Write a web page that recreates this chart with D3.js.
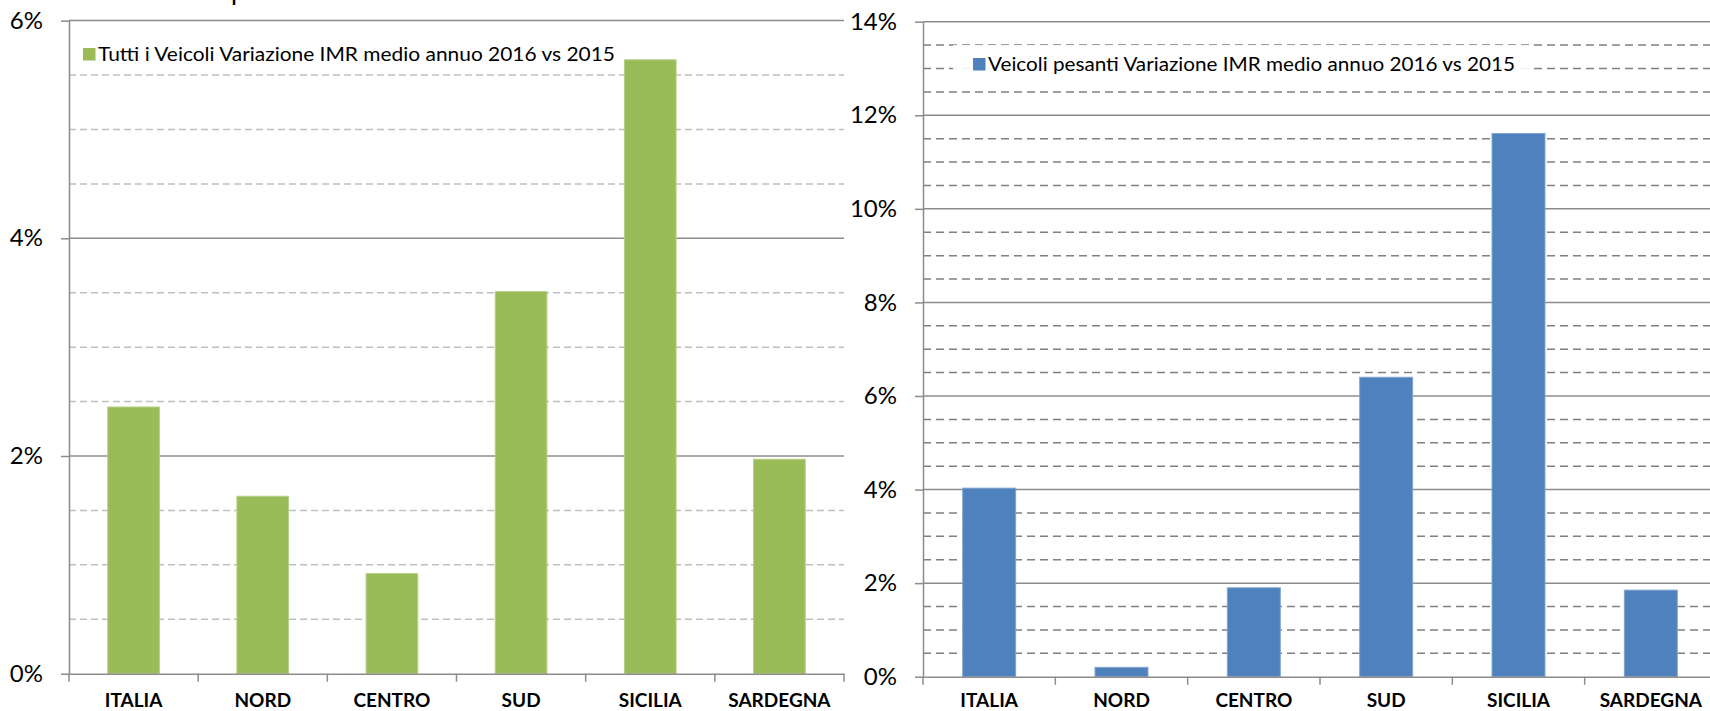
<!DOCTYPE html>
<html>
<head>
<meta charset="utf-8">
<script src="https://cdn.jsdelivr.net/npm/d3@7"></script>
<style>
  body { margin: 0; background: #fff; }
  svg { display: block; font-family: Lato, "Open Sans", sans-serif; }
</style>
</head>
<body>
<div class="chart"></div>
<script>
// two Excel-style column charts side by side

var width = 1710;
var height = 711;

var categories = ["ITALIA", "NORD", "CENTRO", "SUD", "SICILIA", "SARDEGNA"];
var tuttiValues = [2.45, 1.63, 0.92, 3.51, 5.64, 1.97];
var pesantiValues = [4.03, 0.20, 1.90, 6.40, 11.61, 1.85];

var tuttiLabel = "Tutti i Veicoli Variazione IMR medio annuo 2016 vs 2015";
var pesantiLabel = "Veicoli pesanti Variazione IMR medio annuo 2016 vs 2015";

var tuttiTicks = [0, 2, 4, 6];
var pesantiTicks = [0, 2, 4, 6, 8, 10, 12, 14];

var svg = d3.select(".chart").append("svg")
    .attr("width", width)
    .attr("height", height);

// bit of the cut-off title at the very top
svg.append("text")
    .attr("x", 231)
    .attr("y", 0)
    .style("font-size", "26px")
    .style("fill", "#000")
    .text("p");

var drawChart = function(opt){
  var g = svg.append("g");

  var x = d3.scaleBand()
      .domain(categories)
      .range([opt.left, opt.right]);

  var y = d3.scaleLinear()
      .domain([0, opt.max])
      .range([opt.bottom, opt.top]);

  // minor dashed grid every 0.5%
  var minor = d3.range(0, opt.max + 0.001, 0.5).filter(function(d){
    return d > 0 && opt.ticks.indexOf(d) < 0;
  });

  g.selectAll("line.minor")
      .data(minor)
    .enter().append("line")
      .attr("class", "minor")
      .attr("x1", opt.left)
      .attr("x2", opt.right)
      .attr("y1", function(d){ return y(d); })
      .attr("y2", function(d){ return y(d); })
      .style("stroke", opt.minorColor)
      .style("stroke-width", 1.5)
      .style("stroke-dasharray", opt.dash);

  // major solid grid
  g.selectAll("line.major")
      .data(opt.ticks.filter(function(d){ return d > 0; }))
    .enter().append("line")
      .attr("class", "major")
      .attr("x1", opt.left)
      .attr("x2", opt.right)
      .attr("y1", function(d){ return y(d); })
      .attr("y2", function(d){ return y(d); })
      .style("stroke", "#8c8c8c")
      .style("stroke-width", 1.5);

  // legend
  if (opt.legendBox) {
    g.append("rect")
        .attr("x", opt.legendBox[0])
        .attr("y", opt.legendBox[1])
        .attr("width", opt.legendBox[2])
        .attr("height", opt.legendBox[3])
        .style("fill", "#fff")
        .style("opacity", 0.9);
  }
  g.append("rect")
      .attr("x", opt.legendX)
      .attr("y", opt.legendY - 13)
      .attr("width", 12.5)
      .attr("height", 12.5)
      .style("fill", opt.color);
  g.append("text")
      .attr("x", opt.legendX + 15)
      .attr("y", opt.legendY)
      .attr("textLength", opt.legendLen)
      .attr("lengthAdjust", "spacingAndGlyphs")
      .style("font-size", "19.5px")
      .style("fill", "#000")
      .text(opt.label);

  // bars
  var barW = x.bandwidth() * 0.4;
  g.selectAll("rect.bar")
      .data(opt.values)
    .enter().append("rect")
      .attr("class", "bar")
      .attr("x", function(d, i){ return x(categories[i]) + (x.bandwidth() - barW) / 2; })
      .attr("y", function(d){ return y(d); })
      .attr("width", barW)
      .attr("height", function(d){ return y(0) - y(d); })
      .style("fill", opt.color)
      .style("stroke", opt.edge)
      .style("stroke-width", 1);

  // y axis
  var yAxis = g.append("g")
      .attr("transform", "translate(" + opt.left + ",0)")
      .call(d3.axisLeft(y)
        .tickValues(opt.ticks)
        .tickSize(8)
        .tickSizeOuter(0)
        .tickPadding(18)
        .tickFormat(function(d){ return d + "%"; }));
  yAxis.selectAll("path, line").style("stroke", "#8c8c8c").style("stroke-width", 1.5);
  yAxis.selectAll("text")
      .style("font-size", "24px")
      .style("font-family", "Lato, sans-serif")
      .style("fill", "#000");

  // x axis: labels under bars, tick marks at the band edges
  var xAxis = g.append("g")
      .attr("transform", "translate(0," + opt.bottom + ")")
      .call(d3.axisBottom(x).tickSize(0).tickSizeOuter(0).tickPadding(opt.labelPad));
  xAxis.select("path").style("stroke", "#8c8c8c").style("stroke-width", 1.5);
  xAxis.selectAll("text")
      .style("font-size", "19px")
      .style("font-weight", "bold")
      .style("font-family", "Lato, sans-serif")
      .style("fill", "#000");

  var edges = categories.map(function(c){ return x(c); }).concat([opt.right]);
  xAxis.selectAll("line.edge")
      .data(edges)
    .enter().append("line")
      .attr("class", "edge")
      .attr("x1", function(d){ return d; })
      .attr("x2", function(d){ return d; })
      .attr("y1", 0)
      .attr("y2", 8)
      .style("stroke", "#8c8c8c")
      .style("stroke-width", 1.5);
};

drawChart({
  left: 69, right: 844, top: 20.6, bottom: 673.7, max: 6,
  ticks: tuttiTicks, values: tuttiValues, label: tuttiLabel,
  color: "#9bbb59", edge: "#b5cf85",
  minorColor: "#c0c0c0", dash: "7,4",
  legendX: 83, legendY: 61, legendLen: 517, labelPad: 20
});

drawChart({
  left: 923, right: 1717, top: 21.7, bottom: 676.7, max: 14,
  ticks: pesantiTicks, values: pesantiValues, label: pesantiLabel,
  color: "#4f81bd", edge: "#7fa3d0",
  minorColor: "#808080", dash: "8,5",
  legendX: 973, legendY: 71, legendLen: 527, labelPad: 17,
  legendBox: [953, 45, 579, 40]
});
</script>
</body>
</html>
